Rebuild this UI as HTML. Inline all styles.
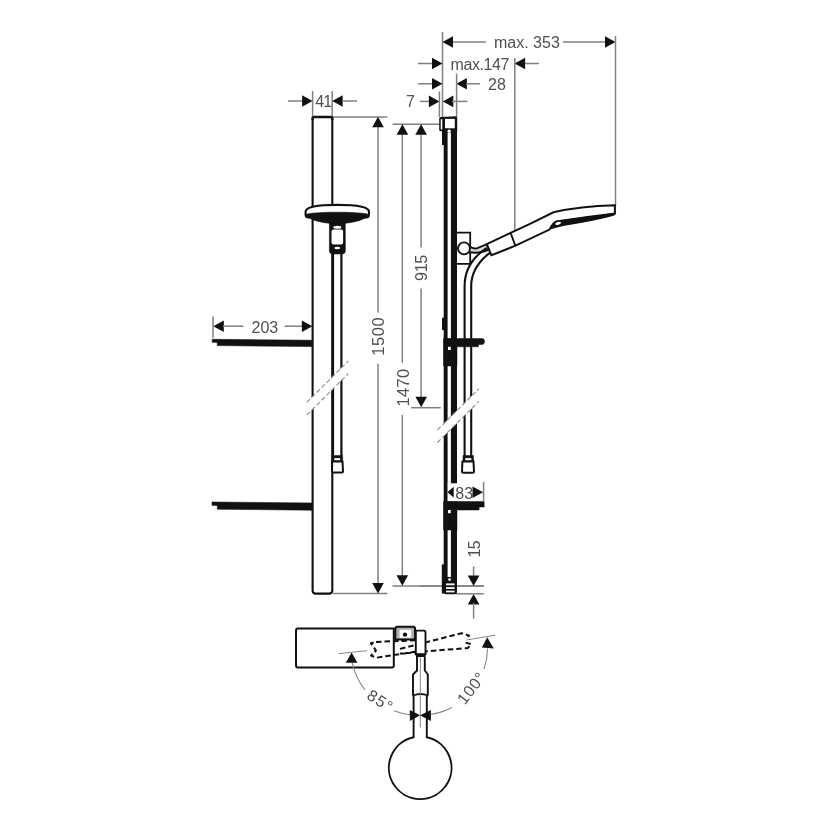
<!DOCTYPE html>
<html><head><meta charset="utf-8"><style>
html,body{margin:0;padding:0;background:#fff;}
svg{display:block;will-change:transform;}
text{font-family:"Liberation Sans",sans-serif;}
</style></head><body>
<svg width="828" height="828" viewBox="0 0 828 828">
<rect width="828" height="828" fill="#fff"/>
<line x1="442.5" y1="32" x2="442.5" y2="117" stroke="#808080" stroke-width="1.5"/>
<line x1="453" y1="42" x2="486" y2="42" stroke="#808080" stroke-width="1.5"/>
<line x1="563" y1="42" x2="605" y2="42" stroke="#808080" stroke-width="1.5"/>
<polygon points="442.5,42.0 453.0,36.2 453.0,47.8" fill="#111111"/>
<polygon points="615.5,42.0 605.0,36.2 605.0,47.8" fill="#111111"/>
<line x1="615.5" y1="36" x2="615.5" y2="206" stroke="#808080" stroke-width="1.5"/>
<text x="494" y="48.3" font-size="16" text-anchor="start" fill="#505050" letter-spacing="0">max. 353</text>
<line x1="418" y1="63.5" x2="433" y2="63.5" stroke="#808080" stroke-width="1.5"/>
<polygon points="442.5,63.5 432.0,57.7 432.0,69.3" fill="#111111"/>
<polygon points="514.6,63.5 525.1,57.7 525.1,69.3" fill="#111111"/>
<line x1="525" y1="63.5" x2="539" y2="63.5" stroke="#808080" stroke-width="1.5"/>
<line x1="514.8" y1="58" x2="514.8" y2="233" stroke="#808080" stroke-width="1.5"/>
<text x="450.5" y="70" font-size="16" text-anchor="start" fill="#505050" letter-spacing="-0.4">max.147</text>
<line x1="418" y1="83.8" x2="433" y2="83.8" stroke="#808080" stroke-width="1.5"/>
<polygon points="442.5,83.8 432.0,78.0 432.0,89.6" fill="#111111"/>
<polygon points="456.4,83.8 466.9,78.0 466.9,89.6" fill="#111111"/>
<line x1="466" y1="83.8" x2="480" y2="83.8" stroke="#808080" stroke-width="1.5"/>
<line x1="456.6" y1="73.5" x2="456.6" y2="117" stroke="#808080" stroke-width="1.5"/>
<text x="488" y="90.3" font-size="16" text-anchor="start" fill="#505050" letter-spacing="0">28</text>
<line x1="420" y1="101.4" x2="430" y2="101.4" stroke="#808080" stroke-width="1.5"/>
<polygon points="439.4,101.4 428.9,95.6 428.9,107.2" fill="#111111"/>
<polygon points="442.8,101.4 453.3,95.6 453.3,107.2" fill="#111111"/>
<line x1="452" y1="101.4" x2="467.4" y2="101.4" stroke="#808080" stroke-width="1.5"/>
<line x1="439.4" y1="91.5" x2="439.4" y2="117" stroke="#808080" stroke-width="1.5"/>
<text x="406" y="107" font-size="16" text-anchor="start" fill="#505050" letter-spacing="0">7</text>
<line x1="288" y1="101" x2="302" y2="101" stroke="#808080" stroke-width="1.5"/>
<polygon points="312.6,101.0 302.1,95.2 302.1,106.8" fill="#111111"/>
<polygon points="332.2,101.0 342.7,95.2 342.7,106.8" fill="#111111"/>
<line x1="342" y1="101" x2="357" y2="101" stroke="#808080" stroke-width="1.5"/>
<line x1="312.6" y1="91" x2="312.6" y2="117" stroke="#808080" stroke-width="1.5"/>
<line x1="332.2" y1="91" x2="332.2" y2="117" stroke="#808080" stroke-width="1.5"/>
<text x="315.3" y="107" font-size="16" text-anchor="start" fill="#505050" letter-spacing="-1">41</text>
<line x1="332" y1="117" x2="387.2" y2="117" stroke="#808080" stroke-width="1.5"/>
<line x1="333" y1="593.6" x2="387.4" y2="593.6" stroke="#808080" stroke-width="1.5"/>
<line x1="378" y1="127" x2="378" y2="312.6" stroke="#808080" stroke-width="1.5"/>
<line x1="378" y1="363.8" x2="378" y2="584" stroke="#808080" stroke-width="1.5"/>
<polygon points="378.0,116.8 372.2,127.3 383.8,127.3" fill="#111111"/>
<polygon points="378.0,593.4 372.2,582.9 383.8,582.9" fill="#111111"/>
<text x="384.5" y="336.2" font-size="16.5" text-anchor="middle" fill="#505050" letter-spacing="0.6" transform="rotate(-90 384.5 336.2)">1500</text>
<line x1="392.6" y1="124.3" x2="439.4" y2="124.3" stroke="#808080" stroke-width="1.5"/>
<line x1="392.5" y1="586.1" x2="483.8" y2="586.1" stroke="#808080" stroke-width="1.5"/>
<line x1="402.3" y1="134" x2="402.3" y2="362.8" stroke="#808080" stroke-width="1.5"/>
<line x1="402.3" y1="415" x2="402.3" y2="576" stroke="#808080" stroke-width="1.5"/>
<polygon points="402.4,124.3 396.6,134.8 408.2,134.8" fill="#111111"/>
<polygon points="402.3,585.8 396.5,575.3 408.1,575.3" fill="#111111"/>
<text x="408.7" y="387.5" font-size="16.5" text-anchor="middle" fill="#505050" letter-spacing="0.3" transform="rotate(-90 408.7 387.5)">1470</text>
<line x1="421.1" y1="134" x2="421.1" y2="247.4" stroke="#808080" stroke-width="1.5"/>
<line x1="421.1" y1="288.5" x2="421.1" y2="398" stroke="#808080" stroke-width="1.5"/>
<polygon points="421.1,124.3 415.3,134.8 426.9,134.8" fill="#111111"/>
<polygon points="421.2,407.3 415.4,396.8 427.0,396.8" fill="#111111"/>
<line x1="411.2" y1="407.7" x2="440.8" y2="407.7" stroke="#808080" stroke-width="1.5"/>
<text x="427.4" y="268" font-size="16.2" text-anchor="middle" fill="#505050" letter-spacing="-0.3" transform="rotate(-90 427.4 268)">915</text>
<line x1="213" y1="316.4" x2="213" y2="338" stroke="#808080" stroke-width="1.5"/>
<polygon points="213.3,326.2 223.8,320.4 223.8,332.0" fill="#111111"/>
<line x1="223" y1="326.2" x2="243.4" y2="326.2" stroke="#808080" stroke-width="1.5"/>
<line x1="284.6" y1="326.2" x2="302" y2="326.2" stroke="#808080" stroke-width="1.5"/>
<polygon points="312.4,326.2 301.9,320.4 301.9,332.0" fill="#111111"/>
<text x="251.5" y="332.8" font-size="16" text-anchor="start" fill="#505050" letter-spacing="0">203</text>
<line x1="473.6" y1="566.5" x2="473.6" y2="577" stroke="#808080" stroke-width="1.5"/>
<polygon points="473.6,585.9 467.8,575.4 479.4,575.4" fill="#111111"/>
<polygon points="473.6,593.9 467.8,604.4 479.4,604.4" fill="#111111"/>
<line x1="473.6" y1="603" x2="473.6" y2="618.7" stroke="#808080" stroke-width="1.5"/>
<line x1="420" y1="586.1" x2="483.8" y2="586.1" stroke="#808080" stroke-width="1.5"/>
<line x1="456.2" y1="593.8" x2="483.8" y2="593.8" stroke="#808080" stroke-width="1.5"/>
<text x="480.4" y="549.2" font-size="16" text-anchor="middle" fill="#505050" letter-spacing="-0.5" transform="rotate(-90 480.4 549.2)">15</text>
<path d="M312.6,119.5 L312.6,590.5 Q312.6,593.6 315.6,593.6 L329.2,593.6 Q332.3,593.6 332.3,590.5 L332.3,119.5" stroke="#111111" stroke-width="2.1" fill="none" />
<path d="M312.6,120 L312.6,118.5 Q312.6,117 314.5,117 L330.4,117 Q332.3,117 332.3,118.5 L332.3,120" stroke="#111111" stroke-width="2.6" fill="none" />
<path d="M212.2,339.3 L312.6,340.3 L312.6,346.6 L217.3,345.6 L217.3,342.4 L212.2,342.2 Z" stroke="#111111" stroke-width="0.6" fill="#111111" />
<path d="M212.0,502.0 L312.6,503.0 L312.6,510.2 L217.3,509.2 L217.3,505.5 L212.0,505.3 Z" stroke="#111111" stroke-width="0.6" fill="#111111" />
<line x1="332.9" y1="254" x2="332.9" y2="456" stroke="#111111" stroke-width="2.4"/>
<line x1="341.4" y1="254" x2="341.4" y2="456" stroke="#111111" stroke-width="2.2"/>
<path d="M331.8,455.5 L342.6,455.5 L342.6,461.8 L331.8,461.8 Z" stroke="#111111" stroke-width="0.5" fill="#111111" />
<rect x="334.3" y="458.1" width="5.8" height="2.4" fill="#fff"/>
<path d="M332.2,461.6 L342.5,461.6 L343,471.5 Q343,472.6 341.8,472.6 L333,472.6 Q332,472.6 332,471.5 Z" stroke="#111111" stroke-width="2.0" fill="#fff" />
<path d="M305.6,211.8 C305.6,206.4 321,204.9 337.2,204.9 C353.5,204.9 369,206.4 369,211.8 L369,214.5 C369,216.5 367.5,217.5 366,217.5 L308.5,217.5 C307,217.5 305.6,216.5 305.6,214.5 Z" stroke="#111111" stroke-width="2.1" fill="#fff" />
<path d="M306.3,214.2 C318,211.6 356,211.6 368.3,214.2 C366,220.5 350,223.6 337.2,223.6 C324,223.6 308.5,220.5 306.3,214.2 Z" stroke="#111111" stroke-width="0.6" fill="#111111" />
<path d="M329.4,223 L345.3,223 L345.4,251 Q345.2,253.8 342.5,254 L332.3,254 Q329.6,253.8 329.4,251 Z" stroke="#111111" stroke-width="0.5" fill="#111111" />
<ellipse cx="337.3" cy="227.2" rx="4" ry="1.5" fill="#fff"/>
<rect x="331.5" y="229.6" width="11.6" height="14.8" rx="2" fill="#fff"/>
<ellipse cx="337.3" cy="248" rx="2.9" ry="1.3" fill="#fff"/>
<polygon points="306.8,402.4 348.3,360.9 348.3,373.6 306.8,415.1" fill="#fff"/>
<path d="M306.8,402.4 L348.3,360.9 M306.8,415.1 L348.3,373.6" stroke="#888" stroke-width="1.1" stroke-dasharray="4.5 2.5"/>
<path d="M443.7,125 L457,125 L457,592 Q457,594.2 455,594.2 L445.8,594.2 Q443.7,594.2 443.7,592 Z" fill="#111111"/>
<rect x="447.6" y="133" width="3.3" height="205.5" fill="#fff"/>
<rect x="447.6" y="366" width="3.3" height="118" fill="#fff"/>
<rect x="447.6" y="530" width="3.3" height="47" fill="#fff"/>
<rect x="447.5" y="483.3" width="10.5" height="18.2" fill="#fff"/>
<rect x="442" y="130" width="2" height="15" fill="#111111"/>
<rect x="442" y="317.5" width="2" height="12.7" rx="0.8" fill="#111111"/>
<rect x="441.8" y="564.3" width="2.2" height="29.5" rx="1" fill="#111111"/>
<circle cx="449.6" cy="579.6" r="1.4" fill="#fff"/>
<rect x="446" y="583.4" width="8.6" height="1.9" fill="#f4f4f4"/>
<rect x="446" y="587.1" width="8.6" height="1.9" fill="#f4f4f4"/>
<rect x="446" y="590.6" width="8.6" height="1.8" fill="#f4f4f4"/>
<path d="M439.2,118.4 Q439.2,116.9 440.8,116.9 L455.6,116.2 Q457.2,116.2 457.2,117.8 L457.2,132 L443.4,132 L443.4,131.2 L440.5,131.2 Q439.2,131.2 439.2,129.8 Z" fill="#111111"/>
<rect x="445" y="118.9" width="9.8" height="9.4" fill="#fff"/>
<rect x="440.7" y="119.2" width="1.6" height="10.3" fill="#fff"/>
<circle cx="449.2" cy="131.3" r="1.7" fill="#fff"/>
<path d="M443.5,338.5 L482,338.5 Q484.5,338.5 484.5,341.3 Q484.5,344.5 482,344.5 L478.5,344.5 L478.5,346.8 L457,346.8 L457,366 L443.5,366 Z" stroke="#111111" stroke-width="0.5" fill="#111111" />
<rect x="448" y="346.8" width="2.8" height="3.2" fill="#fff"/>
<path d="M443.5,501.5 L484.2,501.5 L484.2,507 L479.1,507 L479.1,510 L457,510 L457,530 L443.5,530 Z" stroke="#111111" stroke-width="0.5" fill="#111111" />
<rect x="448" y="510" width="2.8" height="3.2" fill="#fff"/>
<path d="M457,232.6 L470.2,232.6 L470.2,263.9 L457,263.9" stroke="#111111" stroke-width="1.8" fill="#fff" />
<path d="M469.8,246.6 Q473,249.2 476.8,248.3 L486.8,244.2 L489,249.5 Q481,252.8 475.2,252.7 Q471.6,252.4 469.2,252.2" stroke="#111111" stroke-width="1.9" fill="#d8d8d8" />
<path d="M486.8,244.2 L509,233.6 L530,223.8 L553.5,212.3 Q580,206 614.9,205.2 L614.9,213.5 Q590,216.5 556,221.6 Q553,222.5 549.5,229.6 L515.5,245.7 L491.4,255.3 Z" stroke="#111111" stroke-width="2.0" fill="#fff" />
<path d="M510.8,233.4 L515.3,245.6" stroke="#111111" stroke-width="1.8" fill="none" />
<path d="M556,221.6 Q590,216.5 614.9,213.5 L613.5,215.2 Q595,220.5 563,225.3 Q557,226.5 550.8,228.6 Z" stroke="#111111" stroke-width="1.2" fill="#111111" />
<ellipse cx="558" cy="223.4" rx="3" ry="1.4" fill="#fff" transform="rotate(-15 557.8 223)"/>
<path d="M464.6,456 L464.6,286 C464.6,270 473,257 486.8,247.8" stroke="#111111" stroke-width="2.1" fill="none" />
<path d="M471.2,456 L471.2,286 C471.2,273 478,262 489.8,252.8" stroke="#111111" stroke-width="2.1" fill="none" />
<path d="M463,455.5 L473.5,455.5 L473.5,461.8 L463,461.8 Z" stroke="#111111" stroke-width="0.5" fill="#111111" />
<rect x="465.3" y="458.1" width="6" height="2.4" fill="#fff"/>
<path d="M462.4,461.6 L473.5,461.6 L474,471.5 Q474,472.8 472.8,472.8 L463.2,472.8 Q462,472.8 462,471.5 Z" stroke="#111111" stroke-width="2.0" fill="#fff" />
<circle cx="464" cy="248.4" r="6" fill="#fff" stroke="#111111" stroke-width="1.9"/>
<polygon points="437.4,429.9 478.9,388.8 478.9,401.4 437.4,442.5" fill="#fff"/>
<path d="M437.4,429.9 L478.9,388.8 M437.4,442.5 L478.9,401.4" stroke="#888" stroke-width="1.1" stroke-dasharray="4.5 2.5"/>
<path d="M298,628.6 L393.8,628.6 L393.8,665.4 Q393.8,667.4 391.8,667.4 L298,667.4 Q296,667.4 296,665.4 L296,630.6 Q296,628.6 298,628.6 Z" stroke="#111111" stroke-width="2.0" fill="#fff" />
<path d="M376,641.9 L416,640.3 M416,651.6 L376.5,657.7 L371,655.6 L376,650.5 L370.8,643.2 L376,641.9 M400,648.9 L461.7,633.2 L469.2,635.6 L464.8,638.2 M465.5,642.6 L471.1,644.1 L468,647.9 L400,653.6" stroke="#111111" stroke-width="2.0" fill="none" stroke-dasharray="5.5 3" stroke-linejoin="round"/>
<path d="M395.4,628 L396.6,626.8 L413.8,626.8 L415,628 L415.2,639.6 L395.2,639.6 Z" stroke="#111111" stroke-width="2.0" fill="#b0b0b0" />
<rect x="399.6" y="629.8" width="11.6" height="8" fill="#fff"/>
<circle cx="405" cy="634.6" r="2.2" fill="#111111"/>
<path d="M415.8,630.6 L423.8,630.6 Q425.5,630.6 425.5,632.3 L425.5,654.4 L415.8,654.4 Z" stroke="#111111" stroke-width="1.9" fill="#fff" />
<rect x="416" y="653.4" width="9.5" height="3.6" fill="#111111"/>
<path d="M417,657 L417,670.5 L413,674.5 L413,694.6 L413.6,697 L413.6,737.2 A31.3,31.3 0 1 0 426.8,737.2 L426.8,697 L427.8,694.6 L427.8,674.5 L424.8,670.5 L424.8,657" stroke="#111111" stroke-width="1.9" fill="none" />
<path d="M413.2,695.5 Q420.5,692.5 427.8,695.5" stroke="#111111" stroke-width="1.8" fill="none" />
<line x1="420.3" y1="657" x2="420.3" y2="727.5" stroke="#888" stroke-width="1.0"/>
<line x1="338.7" y1="653.6" x2="367" y2="650.7" stroke="#888" stroke-width="1.0"/>
<line x1="466.5" y1="640" x2="495.5" y2="635.1" stroke="#888" stroke-width="1.0"/>
<path d="M352.2,662.8 A68.1,68.1 0 0 0 364.8,689.6" stroke="#888" stroke-width="1.1" fill="none"/>
<path d="M394,710.8 A68.1,68.1 0 0 0 410,714.8" stroke="#888" stroke-width="1.1" fill="none"/>
<path d="M487.5,648.5 A68.1,68.1 0 0 1 484,669.2" stroke="#888" stroke-width="1.1" fill="none"/>
<path d="M452,707.6 A68.1,68.1 0 0 1 430.5,714.5" stroke="#888" stroke-width="1.1" fill="none"/>
<polygon points="351.6,652.4 345.8,662.8 357.4,662.8" fill="#111111"/>
<polygon points="487.2,637.2 481.9,647.4 493.8,648.4" fill="#111111"/>
<polygon points="420.1,715.3 409.8,710 409.9,721" fill="#111111"/>
<polygon points="420.1,715.3 430.9,710 430.9,721" fill="#111111"/>
<text x="377.5" y="705.5" font-size="16" text-anchor="middle" fill="#505050" letter-spacing="1.2" transform="rotate(33 377.5 705.5)">85°</text>
<text x="475.8" y="691.5" font-size="16" text-anchor="middle" fill="#505050" letter-spacing="0.6" transform="rotate(-52 475.8 691.5)">100°</text>
<line x1="483.6" y1="482" x2="483.6" y2="502" stroke="#808080" stroke-width="1.5"/>
<text x="455.3" y="498.5" font-size="16" text-anchor="start" fill="#505050" letter-spacing="0">83</text>
<polygon points="447.4,492.2 453.7,486.8 453.7,497.6" fill="#111111"/>
<polygon points="483.1,492.2 472.5,486.4 472.5,498.0" fill="#111111"/>
</svg></body></html>
